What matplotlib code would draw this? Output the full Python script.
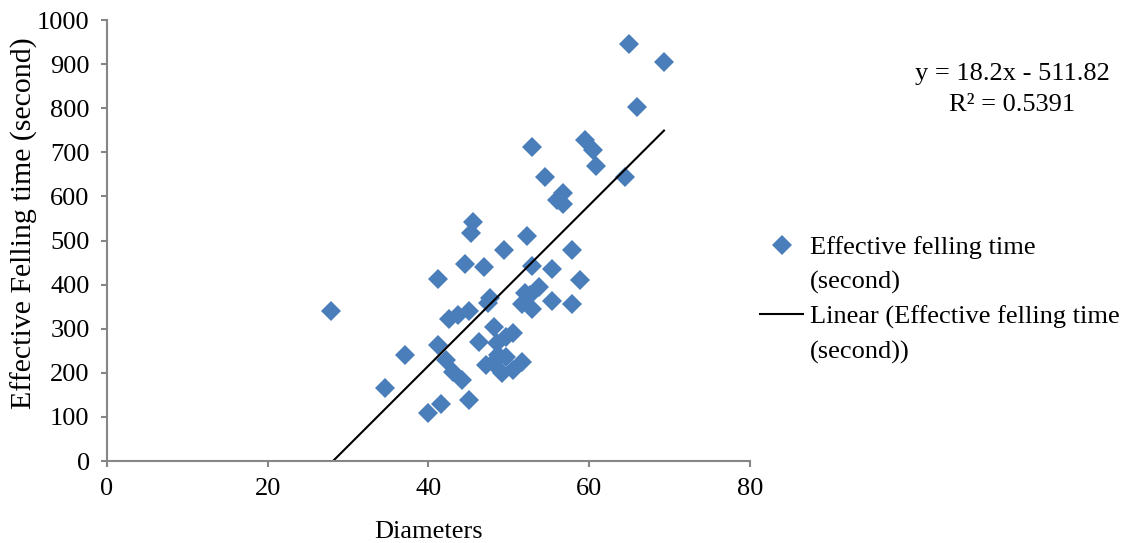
import matplotlib
matplotlib.use("Agg")
import matplotlib.pyplot as plt
from matplotlib.lines import Line2D
import numpy as np

# diameters (x) and effective felling time in seconds (y)
diameters = [27.9, 34.6, 37.1, 40.0, 41.5, 41.2, 41.2, 42.2, 42.5, 43.1,
             43.7, 44.2, 44.6, 45.0, 45.1, 45.3, 45.5, 46.3, 46.9, 47.2,
             47.4, 47.7, 48.0, 48.1, 48.5, 48.7, 49.1, 49.4, 49.7, 49.7,
             50.5, 50.5, 51.6, 51.6, 52.0, 52.2, 52.6, 52.9, 52.9, 52.9,
             53.8, 54.5, 55.4, 55.4, 56.0, 56.7, 56.7, 57.9, 57.9, 58.9,
             59.5, 60.5, 60.8, 64.5, 64.9, 65.9, 69.3]
felling_time = [340, 165, 240, 108, 129, 263, 412, 229, 322, 203,
                331, 184, 446, 138, 341, 516, 543, 271, 441, 218,
                358, 369, 222, 305, 267, 240, 199, 478, 282, 236,
                290, 206, 355, 225, 380, 510, 376, 344, 443, 713,
                395, 643, 435, 363, 591, 607, 584, 478, 356, 410,
                728, 705, 670, 643, 946, 803, 904]

# trendline as reported on the chart
slope = 18.2
intercept = -511.82
r_squared = 0.5391

x_ticks = [0, 20, 40, 60, 80]
y_ticks = [0, 100, 200, 300, 400, 500, 600, 700, 800, 900, 1000]

plt.rcParams['font.family'] = ['Liberation Serif', 'DejaVu Serif']
plt.rcParams['font.size'] = 19

fig = plt.figure(figsize=(11.3, 5.43), dpi=100)
ax = fig.add_axes([0.0947, 0.151, 0.569, 0.812])

pts, = ax.plot(diameters, felling_time, linestyle='none', marker='D', markersize=10,
               color='#4a7ebb', markeredgewidth=0)

xs = np.array([min(diameters), max(diameters)])
trend, = ax.plot(xs, slope * xs + intercept, color='black', linewidth=1.5)

ax.set_xlim(0, 80)
ax.set_ylim(0, 1000)
ax.set_xticks(x_ticks)
ax.set_yticks(y_ticks)

for side in ['top', 'right']:
    ax.spines[side].set_visible(False)
for side in ['left', 'bottom']:
    ax.spines[side].set_color('#868686')
    ax.spines[side].set_linewidth(1.5)
ax.tick_params(direction='out', length=4.5, width=1.5, color='#868686')
ax.tick_params(axis='y', pad=8)
ax.tick_params(axis='x', pad=8)

ax.set_xlabel('Diameters', labelpad=15)
ax.set_ylabel('Effective Felling time (second)', fontsize=21.5)
ax.yaxis.set_label_coords(-0.108, 0.54)

fig.text(0.896, 0.835, f'y = {slope}x - {abs(intercept)}\nR² = {r_squared}',
         ha='center', va='center', fontsize=19, linespacing=1.5)

# legend: handle sits next to the first line of each wrapped label
blank = Line2D([], [], linestyle='none')
handles = [pts, blank, trend, blank]
labels = ['Effective felling time', '(second)',
          'Linear (Effective felling time', '(second))']
ax.legend(handles, labels, loc='center left', bbox_to_anchor=(1.0156, 0.366),
          frameon=False, handlelength=1.63, handletextpad=0.27,
          labelspacing=0.42, borderaxespad=0, borderpad=0)

fig.savefig('out.png', dpi=100)
